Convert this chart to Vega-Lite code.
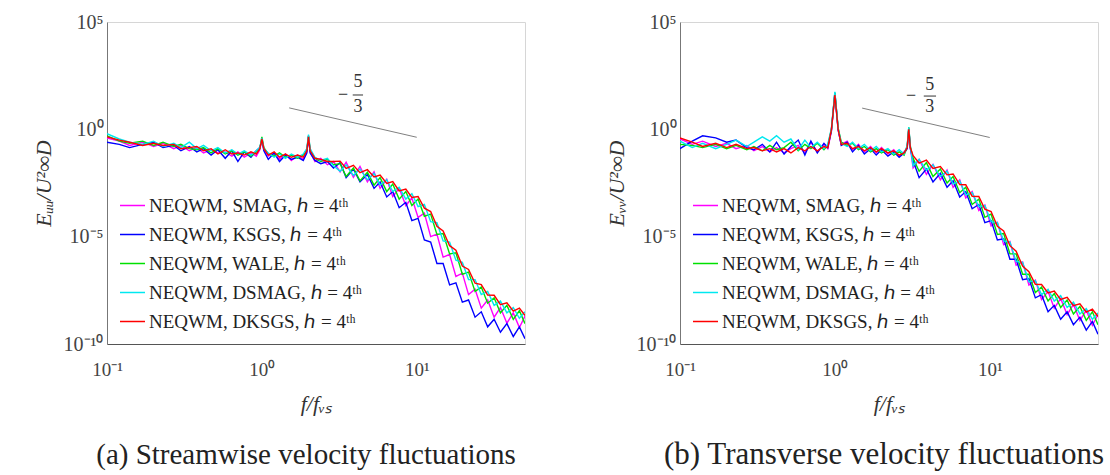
{
"$schema": "https://vega.github.io/schema/vega-lite/v6.json",
"background": "white",
"padding": {"left": 31, "top": 11, "right": 2, "bottom": 2},
"config": {
  "font": "Liberation Serif",
  "view": {"stroke": "#d6d6d6", "strokeWidth": 1},
  "axis": {"grid": false, "ticks": false, "labelFlush": false, "domainColor": "#666666", "labelColor": "#444444", "labelFont": "Liberation Serif", "titleFont": "Liberation Serif", "titleFontWeight": "normal", "titleFontStyle": "italic", "titleColor": "#333333"}
},
"datasets": {
"a": [
{"f":0.1,"m":"SMAG","e":-0.4},{"f":0.12,"m":"SMAG","e":-0.55},{"f":0.14,"m":"SMAG","e":-0.75},{"f":0.17,"m":"SMAG","e":-0.6},{"f":0.2,"m":"SMAG","e":-0.8},{"f":0.23,"m":"SMAG","e":-0.65},{"f":0.27,"m":"SMAG","e":-0.9},{"f":0.3,"m":"SMAG","e":-0.75},{"f":0.34,"m":"SMAG","e":-1.0},{"f":0.38,"m":"SMAG","e":-0.85},{"f":0.42,"m":"SMAG","e":-1.1},{"f":0.47,"m":"SMAG","e":-0.95},{"f":0.52,"m":"SMAG","e":-1.1},{"f":0.58,"m":"SMAG","e":-1.05},{"f":0.64,"m":"SMAG","e":-1.25},{"f":0.7,"m":"SMAG","e":-1.05},{"f":0.77,"m":"SMAG","e":-1.3},{"f":0.85,"m":"SMAG","e":-1.1},{"f":0.92,"m":"SMAG","e":-1.25},{"f":0.97,"m":"SMAG","e":-0.95},{"f":1.0,"m":"SMAG","e":-0.45},{"f":1.03,"m":"SMAG","e":-0.95},{"f":1.1,"m":"SMAG","e":-1.25},{"f":1.2,"m":"SMAG","e":-1.1},{"f":1.3,"m":"SMAG","e":-1.4},{"f":1.42,"m":"SMAG","e":-1.15},{"f":1.55,"m":"SMAG","e":-1.45},{"f":1.7,"m":"SMAG","e":-1.2},{"f":1.85,"m":"SMAG","e":-1.4},{"f":1.95,"m":"SMAG","e":-1.05},{"f":2.0,"m":"SMAG","e":-0.3},{"f":2.05,"m":"SMAG","e":-1.05},{"f":2.2,"m":"SMAG","e":-1.5},{"f":2.4,"m":"SMAG","e":-1.35},{"f":2.65,"m":"SMAG","e":-1.65},{"f":2.9,"m":"SMAG","e":-1.5},{"f":3.2,"m":"SMAG","e":-1.98},{"f":3.5,"m":"SMAG","e":-1.53},{"f":3.9,"m":"SMAG","e":-2.23},{"f":4.3,"m":"SMAG","e":-1.73},{"f":4.8,"m":"SMAG","e":-2.45},{"f":5.3,"m":"SMAG","e":-1.98},{"f":5.8,"m":"SMAG","e":-2.75},{"f":6.4,"m":"SMAG","e":-2.33},{"f":7.0,"m":"SMAG","e":-3.13},{"f":7.7,"m":"SMAG","e":-2.75},{"f":8.5,"m":"SMAG","e":-3.55},{"f":9.3,"m":"SMAG","e":-3.2},{"f":10.2,"m":"SMAG","e":-4.1},{"f":11.2,"m":"SMAG","e":-3.9},{"f":12.3,"m":"SMAG","e":-5.0},{"f":13.5,"m":"SMAG","e":-4.88},{"f":14.8,"m":"SMAG","e":-5.95},{"f":16.3,"m":"SMAG","e":-5.83},{"f":17.9,"m":"SMAG","e":-6.85},{"f":19.7,"m":"SMAG","e":-6.7},{"f":21.6,"m":"SMAG","e":-7.7},{"f":23.8,"m":"SMAG","e":-7.45},{"f":26.1,"m":"SMAG","e":-8.33},{"f":28.7,"m":"SMAG","e":-7.95},{"f":31.6,"m":"SMAG","e":-8.75},{"f":34.7,"m":"SMAG","e":-8.3},{"f":38.2,"m":"SMAG","e":-9.03},{"f":42,"m":"SMAG","e":-8.55},{"f":46,"m":"SMAG","e":-9.23},{"f":50,"m":"SMAG","e":-8.7},
{"f":0.1,"m":"KSGS","e":-0.6},{"f":0.12,"m":"KSGS","e":-0.7},{"f":0.14,"m":"KSGS","e":-0.85},{"f":0.17,"m":"KSGS","e":-0.7},{"f":0.2,"m":"KSGS","e":-0.6},{"f":0.23,"m":"KSGS","e":-0.85},{"f":0.27,"m":"KSGS","e":-0.75},{"f":0.3,"m":"KSGS","e":-1.0},{"f":0.34,"m":"KSGS","e":-0.8},{"f":0.38,"m":"KSGS","e":-1.05},{"f":0.42,"m":"KSGS","e":-0.9},{"f":0.47,"m":"KSGS","e":-1.2},{"f":0.52,"m":"KSGS","e":-0.95},{"f":0.58,"m":"KSGS","e":-1.35},{"f":0.64,"m":"KSGS","e":-1.0},{"f":0.7,"m":"KSGS","e":-1.5},{"f":0.77,"m":"KSGS","e":-1.05},{"f":0.85,"m":"KSGS","e":-1.3},{"f":0.92,"m":"KSGS","e":-1.0},{"f":0.97,"m":"KSGS","e":-0.85},{"f":1.0,"m":"KSGS","e":-0.5},{"f":1.03,"m":"KSGS","e":-1.0},{"f":1.1,"m":"KSGS","e":-1.4},{"f":1.2,"m":"KSGS","e":-1.1},{"f":1.3,"m":"KSGS","e":-1.5},{"f":1.42,"m":"KSGS","e":-1.2},{"f":1.55,"m":"KSGS","e":-1.4},{"f":1.7,"m":"KSGS","e":-1.3},{"f":1.85,"m":"KSGS","e":-1.45},{"f":1.95,"m":"KSGS","e":-1.1},{"f":2.0,"m":"KSGS","e":-0.35},{"f":2.05,"m":"KSGS","e":-1.1},{"f":2.2,"m":"KSGS","e":-1.45},{"f":2.4,"m":"KSGS","e":-1.6},{"f":2.65,"m":"KSGS","e":-1.5},{"f":2.9,"m":"KSGS","e":-1.8},{"f":3.2,"m":"KSGS","e":-1.55},{"f":3.5,"m":"KSGS","e":-2.25},{"f":3.9,"m":"KSGS","e":-1.85},{"f":4.3,"m":"KSGS","e":-2.45},{"f":4.8,"m":"KSGS","e":-2.1},{"f":5.3,"m":"KSGS","e":-2.75},{"f":5.8,"m":"KSGS","e":-2.45},{"f":6.4,"m":"KSGS","e":-3.15},{"f":7.0,"m":"KSGS","e":-2.9},{"f":7.7,"m":"KSGS","e":-3.65},{"f":8.5,"m":"KSGS","e":-3.4},{"f":9.3,"m":"KSGS","e":-4.25},{"f":10.2,"m":"KSGS","e":-4.15},{"f":11.2,"m":"KSGS","e":-5.15},{"f":12.3,"m":"KSGS","e":-5.25},{"f":13.5,"m":"KSGS","e":-6.25},{"f":14.8,"m":"KSGS","e":-6.25},{"f":16.3,"m":"KSGS","e":-7.25},{"f":17.9,"m":"KSGS","e":-7.15},{"f":19.7,"m":"KSGS","e":-8.05},{"f":21.6,"m":"KSGS","e":-7.95},{"f":23.8,"m":"KSGS","e":-8.75},{"f":26.1,"m":"KSGS","e":-8.5},{"f":28.7,"m":"KSGS","e":-9.2},{"f":31.6,"m":"KSGS","e":-8.85},{"f":34.7,"m":"KSGS","e":-9.45},{"f":38.2,"m":"KSGS","e":-9.05},{"f":42,"m":"KSGS","e":-9.65},{"f":46,"m":"KSGS","e":-9.2},{"f":50,"m":"KSGS","e":-9.75},
{"f":0.1,"m":"WALE","e":-0.3},{"f":0.12,"m":"WALE","e":-0.55},{"f":0.14,"m":"WALE","e":-0.65},{"f":0.17,"m":"WALE","e":-0.55},{"f":0.2,"m":"WALE","e":-0.75},{"f":0.23,"m":"WALE","e":-0.6},{"f":0.27,"m":"WALE","e":-0.8},{"f":0.3,"m":"WALE","e":-0.7},{"f":0.34,"m":"WALE","e":-0.9},{"f":0.38,"m":"WALE","e":-0.95},{"f":0.42,"m":"WALE","e":-0.85},{"f":0.47,"m":"WALE","e":-1.1},{"f":0.52,"m":"WALE","e":-0.9},{"f":0.58,"m":"WALE","e":-1.15},{"f":0.64,"m":"WALE","e":-1.0},{"f":0.7,"m":"WALE","e":-1.2},{"f":0.77,"m":"WALE","e":-1.05},{"f":0.85,"m":"WALE","e":-1.25},{"f":0.92,"m":"WALE","e":-1.05},{"f":0.97,"m":"WALE","e":-0.9},{"f":1.0,"m":"WALE","e":-0.35},{"f":1.03,"m":"WALE","e":-0.85},{"f":1.1,"m":"WALE","e":-1.15},{"f":1.2,"m":"WALE","e":-1.25},{"f":1.3,"m":"WALE","e":-1.1},{"f":1.42,"m":"WALE","e":-1.3},{"f":1.55,"m":"WALE","e":-1.2},{"f":1.7,"m":"WALE","e":-1.35},{"f":1.85,"m":"WALE","e":-1.2},{"f":1.95,"m":"WALE","e":-0.95},{"f":2.0,"m":"WALE","e":-0.3},{"f":2.05,"m":"WALE","e":-0.95},{"f":2.2,"m":"WALE","e":-1.35},{"f":2.4,"m":"WALE","e":-1.5},{"f":2.65,"m":"WALE","e":-1.4},{"f":2.9,"m":"WALE","e":-1.65},{"f":3.2,"m":"WALE","e":-1.6},{"f":3.5,"m":"WALE","e":-2.2},{"f":3.9,"m":"WALE","e":-1.8},{"f":4.3,"m":"WALE","e":-2.4},{"f":4.8,"m":"WALE","e":-2.0},{"f":5.3,"m":"WALE","e":-2.6},{"f":5.8,"m":"WALE","e":-2.25},{"f":6.4,"m":"WALE","e":-2.9},{"f":7.0,"m":"WALE","e":-2.55},{"f":7.7,"m":"WALE","e":-3.25},{"f":8.5,"m":"WALE","e":-2.9},{"f":9.3,"m":"WALE","e":-3.55},{"f":10.2,"m":"WALE","e":-3.25},{"f":11.2,"m":"WALE","e":-4.05},{"f":12.3,"m":"WALE","e":-3.95},{"f":13.5,"m":"WALE","e":-4.9},{"f":14.8,"m":"WALE","e":-4.85},{"f":16.3,"m":"WALE","e":-5.8},{"f":17.9,"m":"WALE","e":-5.75},{"f":19.7,"m":"WALE","e":-6.75},{"f":21.6,"m":"WALE","e":-6.65},{"f":23.8,"m":"WALE","e":-7.55},{"f":26.1,"m":"WALE","e":-7.35},{"f":28.7,"m":"WALE","e":-8.1},{"f":31.6,"m":"WALE","e":-7.85},{"f":34.7,"m":"WALE","e":-8.55},{"f":38.2,"m":"WALE","e":-8.2},{"f":42,"m":"WALE","e":-8.85},{"f":46,"m":"WALE","e":-8.45},{"f":50,"m":"WALE","e":-9.05},
{"f":0.1,"m":"DSMAG","e":-0.2},{"f":0.12,"m":"DSMAG","e":-0.45},{"f":0.14,"m":"DSMAG","e":-0.6},{"f":0.17,"m":"DSMAG","e":-0.7},{"f":0.2,"m":"DSMAG","e":-0.55},{"f":0.23,"m":"DSMAG","e":-0.8},{"f":0.27,"m":"DSMAG","e":-0.65},{"f":0.3,"m":"DSMAG","e":-0.85},{"f":0.34,"m":"DSMAG","e":-0.6},{"f":0.38,"m":"DSMAG","e":-0.9},{"f":0.42,"m":"DSMAG","e":-0.75},{"f":0.47,"m":"DSMAG","e":-1.0},{"f":0.52,"m":"DSMAG","e":-0.85},{"f":0.58,"m":"DSMAG","e":-1.1},{"f":0.64,"m":"DSMAG","e":-0.95},{"f":0.7,"m":"DSMAG","e":-1.15},{"f":0.77,"m":"DSMAG","e":-1.0},{"f":0.85,"m":"DSMAG","e":-1.2},{"f":0.92,"m":"DSMAG","e":-1.0},{"f":0.97,"m":"DSMAG","e":-0.85},{"f":1.0,"m":"DSMAG","e":-0.4},{"f":1.03,"m":"DSMAG","e":-0.9},{"f":1.1,"m":"DSMAG","e":-1.1},{"f":1.2,"m":"DSMAG","e":-1.3},{"f":1.3,"m":"DSMAG","e":-1.15},{"f":1.42,"m":"DSMAG","e":-1.35},{"f":1.55,"m":"DSMAG","e":-1.15},{"f":1.7,"m":"DSMAG","e":-1.3},{"f":1.85,"m":"DSMAG","e":-1.15},{"f":1.95,"m":"DSMAG","e":-0.9},{"f":2.0,"m":"DSMAG","e":-0.25},{"f":2.05,"m":"DSMAG","e":-0.9},{"f":2.2,"m":"DSMAG","e":-1.3},{"f":2.4,"m":"DSMAG","e":-1.45},{"f":2.65,"m":"DSMAG","e":-1.35},{"f":2.9,"m":"DSMAG","e":-1.7},{"f":3.2,"m":"DSMAG","e":-1.95},{"f":3.5,"m":"DSMAG","e":-1.65},{"f":3.9,"m":"DSMAG","e":-2.15},{"f":4.3,"m":"DSMAG","e":-1.85},{"f":4.8,"m":"DSMAG","e":-2.35},{"f":5.3,"m":"DSMAG","e":-2.05},{"f":5.8,"m":"DSMAG","e":-2.6},{"f":6.4,"m":"DSMAG","e":-2.35},{"f":7.0,"m":"DSMAG","e":-2.9},{"f":7.7,"m":"DSMAG","e":-2.7},{"f":8.5,"m":"DSMAG","e":-3.25},{"f":9.3,"m":"DSMAG","e":-3.0},{"f":10.2,"m":"DSMAG","e":-3.6},{"f":11.2,"m":"DSMAG","e":-3.5},{"f":12.3,"m":"DSMAG","e":-4.3},{"f":13.5,"m":"DSMAG","e":-4.35},{"f":14.8,"m":"DSMAG","e":-5.2},{"f":16.3,"m":"DSMAG","e":-5.25},{"f":17.9,"m":"DSMAG","e":-6.1},{"f":19.7,"m":"DSMAG","e":-6.2},{"f":21.6,"m":"DSMAG","e":-7.0},{"f":23.8,"m":"DSMAG","e":-7.0},{"f":26.1,"m":"DSMAG","e":-7.7},{"f":28.7,"m":"DSMAG","e":-7.55},{"f":31.6,"m":"DSMAG","e":-8.2},{"f":34.7,"m":"DSMAG","e":-8.0},{"f":38.2,"m":"DSMAG","e":-8.55},{"f":42,"m":"DSMAG","e":-8.3},{"f":46,"m":"DSMAG","e":-8.8},{"f":50,"m":"DSMAG","e":-8.5},
{"f":0.1,"m":"DKSGS","e":-0.35},{"f":0.12,"m":"DKSGS","e":-0.5},{"f":0.14,"m":"DKSGS","e":-0.6},{"f":0.17,"m":"DKSGS","e":-0.75},{"f":0.2,"m":"DKSGS","e":-0.65},{"f":0.23,"m":"DKSGS","e":-0.75},{"f":0.27,"m":"DKSGS","e":-0.7},{"f":0.3,"m":"DKSGS","e":-0.9},{"f":0.34,"m":"DKSGS","e":-0.85},{"f":0.38,"m":"DKSGS","e":-0.8},{"f":0.42,"m":"DKSGS","e":-1.0},{"f":0.47,"m":"DKSGS","e":-0.9},{"f":0.52,"m":"DKSGS","e":-1.15},{"f":0.58,"m":"DKSGS","e":-0.95},{"f":0.64,"m":"DKSGS","e":-1.15},{"f":0.7,"m":"DKSGS","e":-1.1},{"f":0.77,"m":"DKSGS","e":-1.2},{"f":0.85,"m":"DKSGS","e":-1.05},{"f":0.92,"m":"DKSGS","e":-1.15},{"f":0.97,"m":"DKSGS","e":-0.9},{"f":1.0,"m":"DKSGS","e":-0.45},{"f":1.03,"m":"DKSGS","e":-0.9},{"f":1.1,"m":"DKSGS","e":-1.2},{"f":1.2,"m":"DKSGS","e":-1.05},{"f":1.3,"m":"DKSGS","e":-1.3},{"f":1.42,"m":"DKSGS","e":-1.15},{"f":1.55,"m":"DKSGS","e":-1.3},{"f":1.7,"m":"DKSGS","e":-1.2},{"f":1.85,"m":"DKSGS","e":-1.3},{"f":1.95,"m":"DKSGS","e":-1.0},{"f":2.0,"m":"DKSGS","e":-0.35},{"f":2.05,"m":"DKSGS","e":-1.0},{"f":2.2,"m":"DKSGS","e":-1.35},{"f":2.4,"m":"DKSGS","e":-1.4},{"f":2.65,"m":"DKSGS","e":-1.5},{"f":2.9,"m":"DKSGS","e":-1.5},{"f":3.2,"m":"DKSGS","e":-1.48},{"f":3.5,"m":"DKSGS","e":-1.82},{"f":3.9,"m":"DKSGS","e":-1.68},{"f":4.3,"m":"DKSGS","e":-2.02},{"f":4.8,"m":"DKSGS","e":-1.88},{"f":5.3,"m":"DKSGS","e":-2.22},{"f":5.8,"m":"DKSGS","e":-2.13},{"f":6.4,"m":"DKSGS","e":-2.52},{"f":7.0,"m":"DKSGS","e":-2.43},{"f":7.7,"m":"DKSGS","e":-2.87},{"f":8.5,"m":"DKSGS","e":-2.78},{"f":9.3,"m":"DKSGS","e":-3.17},{"f":10.2,"m":"DKSGS","e":-3.13},{"f":11.2,"m":"DKSGS","e":-3.67},{"f":12.3,"m":"DKSGS","e":-3.83},{"f":13.5,"m":"DKSGS","e":-4.52},{"f":14.8,"m":"DKSGS","e":-4.73},{"f":16.3,"m":"DKSGS","e":-5.42},{"f":17.9,"m":"DKSGS","e":-5.63},{"f":19.7,"m":"DKSGS","e":-6.37},{"f":21.6,"m":"DKSGS","e":-6.53},{"f":23.8,"m":"DKSGS","e":-7.17},{"f":26.1,"m":"DKSGS","e":-7.23},{"f":28.7,"m":"DKSGS","e":-7.72},{"f":31.6,"m":"DKSGS","e":-7.73},{"f":34.7,"m":"DKSGS","e":-8.17},{"f":38.2,"m":"DKSGS","e":-8.08},{"f":42,"m":"DKSGS","e":-8.47},{"f":46,"m":"DKSGS","e":-8.33},{"f":50,"m":"DKSGS","e":-8.67}
],
"b": [
{"f":0.1,"m":"SMAG","e":-0.45},{"f":0.12,"m":"SMAG","e":-0.7},{"f":0.14,"m":"SMAG","e":-0.55},{"f":0.17,"m":"SMAG","e":-0.8},{"f":0.2,"m":"SMAG","e":-0.65},{"f":0.23,"m":"SMAG","e":-0.9},{"f":0.27,"m":"SMAG","e":-0.75},{"f":0.3,"m":"SMAG","e":-1.0},{"f":0.34,"m":"SMAG","e":-0.8},{"f":0.38,"m":"SMAG","e":-1.05},{"f":0.42,"m":"SMAG","e":-0.85},{"f":0.47,"m":"SMAG","e":-1.1},{"f":0.52,"m":"SMAG","e":-0.9},{"f":0.58,"m":"SMAG","e":-0.75},{"f":0.64,"m":"SMAG","e":-1.1},{"f":0.7,"m":"SMAG","e":-0.6},{"f":0.77,"m":"SMAG","e":-1.05},{"f":0.85,"m":"SMAG","e":-0.7},{"f":0.9,"m":"SMAG","e":-0.9},{"f":0.95,"m":"SMAG","e":-0.1},{"f":1.0,"m":"SMAG","e":1.65},{"f":1.05,"m":"SMAG","e":-0.05},{"f":1.1,"m":"SMAG","e":-0.7},{"f":1.2,"m":"SMAG","e":-0.55},{"f":1.3,"m":"SMAG","e":-0.95},{"f":1.42,"m":"SMAG","e":-0.7},{"f":1.55,"m":"SMAG","e":-1.05},{"f":1.7,"m":"SMAG","e":-0.8},{"f":1.85,"m":"SMAG","e":-1.1},{"f":2.0,"m":"SMAG","e":-0.85},{"f":2.2,"m":"SMAG","e":-1.15},{"f":2.4,"m":"SMAG","e":-0.95},{"f":2.6,"m":"SMAG","e":-1.25},{"f":2.8,"m":"SMAG","e":-1.05},{"f":2.93,"m":"SMAG","e":-0.85},{"f":3.0,"m":"SMAG","e":0.05},{"f":3.07,"m":"SMAG","e":-0.85},{"f":3.2,"m":"SMAG","e":-1.8},{"f":3.5,"m":"SMAG","e":-1.4},{"f":3.9,"m":"SMAG","e":-2.1},{"f":4.3,"m":"SMAG","e":-1.63},{"f":4.8,"m":"SMAG","e":-2.35},{"f":5.3,"m":"SMAG","e":-1.9},{"f":5.8,"m":"SMAG","e":-2.7},{"f":6.4,"m":"SMAG","e":-2.35},{"f":7.0,"m":"SMAG","e":-3.2},{"f":7.7,"m":"SMAG","e":-2.9},{"f":8.5,"m":"SMAG","e":-3.78},{"f":9.3,"m":"SMAG","e":-3.53},{"f":10.2,"m":"SMAG","e":-4.5},{"f":11.2,"m":"SMAG","e":-4.33},{"f":12.3,"m":"SMAG","e":-5.38},{"f":13.5,"m":"SMAG","e":-5.23},{"f":14.8,"m":"SMAG","e":-6.33},{"f":16.3,"m":"SMAG","e":-6.18},{"f":17.9,"m":"SMAG","e":-7.25},{"f":19.7,"m":"SMAG","e":-7.03},{"f":21.6,"m":"SMAG","e":-7.93},{"f":23.8,"m":"SMAG","e":-7.55},{"f":26.1,"m":"SMAG","e":-8.33},{"f":28.7,"m":"SMAG","e":-7.88},{"f":31.6,"m":"SMAG","e":-8.63},{"f":34.7,"m":"SMAG","e":-8.15},{"f":38.2,"m":"SMAG","e":-8.9},{"f":42,"m":"SMAG","e":-8.43},{"f":46,"m":"SMAG","e":-9.13},{"f":50,"m":"SMAG","e":-8.63},
{"f":0.1,"m":"KSGS","e":-0.9},{"f":0.12,"m":"KSGS","e":-0.55},{"f":0.14,"m":"KSGS","e":-0.3},{"f":0.17,"m":"KSGS","e":-0.4},{"f":0.2,"m":"KSGS","e":-0.6},{"f":0.23,"m":"KSGS","e":-0.5},{"f":0.27,"m":"KSGS","e":-0.85},{"f":0.3,"m":"KSGS","e":-0.95},{"f":0.34,"m":"KSGS","e":-0.7},{"f":0.38,"m":"KSGS","e":-1.05},{"f":0.42,"m":"KSGS","e":-0.6},{"f":0.47,"m":"KSGS","e":-1.15},{"f":0.52,"m":"KSGS","e":-0.8},{"f":0.58,"m":"KSGS","e":-0.5},{"f":0.64,"m":"KSGS","e":-1.2},{"f":0.7,"m":"KSGS","e":-0.55},{"f":0.77,"m":"KSGS","e":-1.1},{"f":0.85,"m":"KSGS","e":-0.65},{"f":0.9,"m":"KSGS","e":-0.85},{"f":0.95,"m":"KSGS","e":-0.05},{"f":1.0,"m":"KSGS","e":1.7},{"f":1.05,"m":"KSGS","e":0.0},{"f":1.1,"m":"KSGS","e":-0.75},{"f":1.2,"m":"KSGS","e":-0.6},{"f":1.3,"m":"KSGS","e":-1.05},{"f":1.42,"m":"KSGS","e":-0.75},{"f":1.55,"m":"KSGS","e":-1.15},{"f":1.7,"m":"KSGS","e":-0.9},{"f":1.85,"m":"KSGS","e":-1.2},{"f":2.0,"m":"KSGS","e":-0.95},{"f":2.2,"m":"KSGS","e":-1.25},{"f":2.4,"m":"KSGS","e":-1.05},{"f":2.6,"m":"KSGS","e":-1.3},{"f":2.8,"m":"KSGS","e":-1.1},{"f":2.93,"m":"KSGS","e":-0.9},{"f":3.0,"m":"KSGS","e":0.0},{"f":3.07,"m":"KSGS","e":-0.9},{"f":3.2,"m":"KSGS","e":-1.45},{"f":3.5,"m":"KSGS","e":-2.25},{"f":3.9,"m":"KSGS","e":-1.85},{"f":4.3,"m":"KSGS","e":-2.45},{"f":4.8,"m":"KSGS","e":-2.05},{"f":5.3,"m":"KSGS","e":-2.7},{"f":5.8,"m":"KSGS","e":-2.4},{"f":6.4,"m":"KSGS","e":-3.15},{"f":7.0,"m":"KSGS","e":-2.9},{"f":7.7,"m":"KSGS","e":-3.7},{"f":8.5,"m":"KSGS","e":-3.5},{"f":9.3,"m":"KSGS","e":-4.35},{"f":10.2,"m":"KSGS","e":-4.25},{"f":11.2,"m":"KSGS","e":-5.15},{"f":12.3,"m":"KSGS","e":-5.1},{"f":13.5,"m":"KSGS","e":-6.05},{"f":14.8,"m":"KSGS","e":-6.05},{"f":16.3,"m":"KSGS","e":-7.0},{"f":17.9,"m":"KSGS","e":-6.95},{"f":19.7,"m":"KSGS","e":-7.85},{"f":21.6,"m":"KSGS","e":-7.7},{"f":23.8,"m":"KSGS","e":-8.5},{"f":26.1,"m":"KSGS","e":-8.2},{"f":28.7,"m":"KSGS","e":-8.85},{"f":31.6,"m":"KSGS","e":-8.5},{"f":34.7,"m":"KSGS","e":-9.1},{"f":38.2,"m":"KSGS","e":-8.75},{"f":42,"m":"KSGS","e":-9.35},{"f":46,"m":"KSGS","e":-8.95},{"f":50,"m":"KSGS","e":-9.55},
{"f":0.1,"m":"WALE","e":-0.7},{"f":0.12,"m":"WALE","e":-0.75},{"f":0.14,"m":"WALE","e":-0.85},{"f":0.17,"m":"WALE","e":-0.7},{"f":0.2,"m":"WALE","e":-0.9},{"f":0.23,"m":"WALE","e":-0.75},{"f":0.27,"m":"WALE","e":-0.95},{"f":0.3,"m":"WALE","e":-0.8},{"f":0.34,"m":"WALE","e":-1.0},{"f":0.38,"m":"WALE","e":-0.75},{"f":0.42,"m":"WALE","e":-0.95},{"f":0.47,"m":"WALE","e":-0.85},{"f":0.52,"m":"WALE","e":-0.6},{"f":0.58,"m":"WALE","e":-1.0},{"f":0.64,"m":"WALE","e":-0.7},{"f":0.7,"m":"WALE","e":-0.9},{"f":0.77,"m":"WALE","e":-0.65},{"f":0.85,"m":"WALE","e":-0.95},{"f":0.9,"m":"WALE","e":-0.75},{"f":0.95,"m":"WALE","e":0.0},{"f":1.0,"m":"WALE","e":1.7},{"f":1.05,"m":"WALE","e":0.05},{"f":1.1,"m":"WALE","e":-0.6},{"f":1.2,"m":"WALE","e":-0.75},{"f":1.3,"m":"WALE","e":-0.65},{"f":1.42,"m":"WALE","e":-0.95},{"f":1.55,"m":"WALE","e":-0.8},{"f":1.7,"m":"WALE","e":-1.05},{"f":1.85,"m":"WALE","e":-0.9},{"f":2.0,"m":"WALE","e":-1.1},{"f":2.2,"m":"WALE","e":-0.95},{"f":2.4,"m":"WALE","e":-1.2},{"f":2.6,"m":"WALE","e":-1.05},{"f":2.8,"m":"WALE","e":-1.2},{"f":2.93,"m":"WALE","e":-0.8},{"f":3.0,"m":"WALE","e":0.1},{"f":3.07,"m":"WALE","e":-0.8},{"f":3.2,"m":"WALE","e":-1.35},{"f":3.5,"m":"WALE","e":-1.95},{"f":3.9,"m":"WALE","e":-1.55},{"f":4.3,"m":"WALE","e":-2.2},{"f":4.8,"m":"WALE","e":-1.85},{"f":5.3,"m":"WALE","e":-2.5},{"f":5.8,"m":"WALE","e":-2.2},{"f":6.4,"m":"WALE","e":-2.95},{"f":7.0,"m":"WALE","e":-2.7},{"f":7.7,"m":"WALE","e":-3.5},{"f":8.5,"m":"WALE","e":-3.25},{"f":9.3,"m":"WALE","e":-4.1},{"f":10.2,"m":"WALE","e":-3.95},{"f":11.2,"m":"WALE","e":-4.9},{"f":12.3,"m":"WALE","e":-4.85},{"f":13.5,"m":"WALE","e":-5.8},{"f":14.8,"m":"WALE","e":-5.8},{"f":16.3,"m":"WALE","e":-6.75},{"f":17.9,"m":"WALE","e":-6.75},{"f":19.7,"m":"WALE","e":-7.6},{"f":21.6,"m":"WALE","e":-7.35},{"f":23.8,"m":"WALE","e":-8.0},{"f":26.1,"m":"WALE","e":-7.65},{"f":28.7,"m":"WALE","e":-8.3},{"f":31.6,"m":"WALE","e":-7.95},{"f":34.7,"m":"WALE","e":-8.6},{"f":38.2,"m":"WALE","e":-8.25},{"f":42,"m":"WALE","e":-8.9},{"f":46,"m":"WALE","e":-8.5},{"f":50,"m":"WALE","e":-9.1},
{"f":0.1,"m":"DSMAG","e":-0.55},{"f":0.12,"m":"DSMAG","e":-0.85},{"f":0.14,"m":"DSMAG","e":-0.65},{"f":0.17,"m":"DSMAG","e":-0.9},{"f":0.2,"m":"DSMAG","e":-0.7},{"f":0.23,"m":"DSMAG","e":-0.5},{"f":0.27,"m":"DSMAG","e":-0.8},{"f":0.3,"m":"DSMAG","e":-0.6},{"f":0.34,"m":"DSMAG","e":-0.35},{"f":0.38,"m":"DSMAG","e":-0.55},{"f":0.42,"m":"DSMAG","e":-0.3},{"f":0.47,"m":"DSMAG","e":-0.6},{"f":0.52,"m":"DSMAG","e":-0.45},{"f":0.58,"m":"DSMAG","e":-0.95},{"f":0.64,"m":"DSMAG","e":-0.5},{"f":0.7,"m":"DSMAG","e":-0.85},{"f":0.77,"m":"DSMAG","e":-0.6},{"f":0.85,"m":"DSMAG","e":-0.9},{"f":0.9,"m":"DSMAG","e":-0.7},{"f":0.95,"m":"DSMAG","e":0.05},{"f":1.0,"m":"DSMAG","e":1.75},{"f":1.05,"m":"DSMAG","e":0.05},{"f":1.1,"m":"DSMAG","e":-0.65},{"f":1.2,"m":"DSMAG","e":-0.8},{"f":1.3,"m":"DSMAG","e":-0.6},{"f":1.42,"m":"DSMAG","e":-0.9},{"f":1.55,"m":"DSMAG","e":-0.7},{"f":1.7,"m":"DSMAG","e":-1.0},{"f":1.85,"m":"DSMAG","e":-0.8},{"f":2.0,"m":"DSMAG","e":-1.05},{"f":2.2,"m":"DSMAG","e":-0.9},{"f":2.4,"m":"DSMAG","e":-1.15},{"f":2.6,"m":"DSMAG","e":-0.95},{"f":2.8,"m":"DSMAG","e":-1.15},{"f":2.93,"m":"DSMAG","e":-0.75},{"f":3.0,"m":"DSMAG","e":0.1},{"f":3.07,"m":"DSMAG","e":-0.75},{"f":3.2,"m":"DSMAG","e":-1.7},{"f":3.5,"m":"DSMAG","e":-1.4},{"f":3.9,"m":"DSMAG","e":-1.9},{"f":4.3,"m":"DSMAG","e":-1.65},{"f":4.8,"m":"DSMAG","e":-2.2},{"f":5.3,"m":"DSMAG","e":-1.95},{"f":5.8,"m":"DSMAG","e":-2.55},{"f":6.4,"m":"DSMAG","e":-2.4},{"f":7.0,"m":"DSMAG","e":-3.05},{"f":7.7,"m":"DSMAG","e":-2.95},{"f":8.5,"m":"DSMAG","e":-3.6},{"f":9.3,"m":"DSMAG","e":-3.55},{"f":10.2,"m":"DSMAG","e":-4.3},{"f":11.2,"m":"DSMAG","e":-4.35},{"f":12.3,"m":"DSMAG","e":-5.2},{"f":13.5,"m":"DSMAG","e":-5.25},{"f":14.8,"m":"DSMAG","e":-6.15},{"f":16.3,"m":"DSMAG","e":-6.2},{"f":17.9,"m":"DSMAG","e":-7.1},{"f":19.7,"m":"DSMAG","e":-7.05},{"f":21.6,"m":"DSMAG","e":-7.7},{"f":23.8,"m":"DSMAG","e":-7.45},{"f":26.1,"m":"DSMAG","e":-8.0},{"f":28.7,"m":"DSMAG","e":-7.75},{"f":31.6,"m":"DSMAG","e":-8.3},{"f":34.7,"m":"DSMAG","e":-8.05},{"f":38.2,"m":"DSMAG","e":-8.6},{"f":42,"m":"DSMAG","e":-8.35},{"f":46,"m":"DSMAG","e":-8.85},{"f":50,"m":"DSMAG","e":-8.55},
{"f":0.1,"m":"DKSGS","e":-0.4},{"f":0.12,"m":"DKSGS","e":-0.6},{"f":0.14,"m":"DKSGS","e":-0.8},{"f":0.17,"m":"DKSGS","e":-0.65},{"f":0.2,"m":"DKSGS","e":-0.85},{"f":0.23,"m":"DKSGS","e":-0.7},{"f":0.27,"m":"DKSGS","e":-0.9},{"f":0.3,"m":"DKSGS","e":-0.85},{"f":0.34,"m":"DKSGS","e":-1.0},{"f":0.38,"m":"DKSGS","e":-0.9},{"f":0.42,"m":"DKSGS","e":-1.05},{"f":0.47,"m":"DKSGS","e":-0.9},{"f":0.52,"m":"DKSGS","e":-1.1},{"f":0.58,"m":"DKSGS","e":-0.85},{"f":0.64,"m":"DKSGS","e":-1.0},{"f":0.7,"m":"DKSGS","e":-0.8},{"f":0.77,"m":"DKSGS","e":-1.0},{"f":0.85,"m":"DKSGS","e":-0.8},{"f":0.9,"m":"DKSGS","e":-0.85},{"f":0.95,"m":"DKSGS","e":0.0},{"f":1.0,"m":"DKSGS","e":1.6},{"f":1.05,"m":"DKSGS","e":0.0},{"f":1.1,"m":"DKSGS","e":-0.7},{"f":1.2,"m":"DKSGS","e":-0.65},{"f":1.3,"m":"DKSGS","e":-0.9},{"f":1.42,"m":"DKSGS","e":-0.8},{"f":1.55,"m":"DKSGS","e":-1.0},{"f":1.7,"m":"DKSGS","e":-0.85},{"f":1.85,"m":"DKSGS","e":-1.05},{"f":2.0,"m":"DKSGS","e":-0.9},{"f":2.2,"m":"DKSGS","e":-1.1},{"f":2.4,"m":"DKSGS","e":-1.0},{"f":2.6,"m":"DKSGS","e":-1.2},{"f":2.8,"m":"DKSGS","e":-1.1},{"f":2.93,"m":"DKSGS","e":-0.85},{"f":3.0,"m":"DKSGS","e":0.0},{"f":3.07,"m":"DKSGS","e":-0.85},{"f":3.2,"m":"DKSGS","e":-1.23},{"f":3.5,"m":"DKSGS","e":-1.57},{"f":3.9,"m":"DKSGS","e":-1.43},{"f":4.3,"m":"DKSGS","e":-1.82},{"f":4.8,"m":"DKSGS","e":-1.73},{"f":5.3,"m":"DKSGS","e":-2.12},{"f":5.8,"m":"DKSGS","e":-2.08},{"f":6.4,"m":"DKSGS","e":-2.57},{"f":7.0,"m":"DKSGS","e":-2.58},{"f":7.7,"m":"DKSGS","e":-3.12},{"f":8.5,"m":"DKSGS","e":-3.13},{"f":9.3,"m":"DKSGS","e":-3.72},{"f":10.2,"m":"DKSGS","e":-3.83},{"f":11.2,"m":"DKSGS","e":-4.52},{"f":12.3,"m":"DKSGS","e":-4.73},{"f":13.5,"m":"DKSGS","e":-5.42},{"f":14.8,"m":"DKSGS","e":-5.68},{"f":16.3,"m":"DKSGS","e":-6.37},{"f":17.9,"m":"DKSGS","e":-6.63},{"f":19.7,"m":"DKSGS","e":-7.22},{"f":21.6,"m":"DKSGS","e":-7.23},{"f":23.8,"m":"DKSGS","e":-7.62},{"f":26.1,"m":"DKSGS","e":-7.53},{"f":28.7,"m":"DKSGS","e":-7.92},{"f":31.6,"m":"DKSGS","e":-7.83},{"f":34.7,"m":"DKSGS","e":-8.22},{"f":38.2,"m":"DKSGS","e":-8.13},{"f":42,"m":"DKSGS","e":-8.52},{"f":46,"m":"DKSGS","e":-8.38},{"f":50,"m":"DKSGS","e":-8.72}
]
},
"spacing": 78,
"resolve": {"scale": {"color": "independent"}, "legend": {"color": "independent"}},
"hconcat": [
{
  "width": 418, "height": 322,
  "title": {"text": "(a) Streamwise velocity fluctuations", "orient": "bottom", "anchor": "middle", "dx": -10, "font": "Liberation Serif", "fontSize": 29, "fontWeight": "normal", "color": "#222222", "offset": 27},
  "layer": [
    {"data": {"name": "a"}, "mark": {"type": "line", "strokeWidth": 1.4, "clip": true},
     "encoding": {
       "x": {"field": "f", "type": "quantitative", "scale": {"type": "log", "domain": [0.1, 50], "nice": false}, "axis": {"values": [0.1, 1, 10], "labelExpr": "datum.value < 0.5 ? '10⁻¹' : datum.value < 5 ? '10⁰' : '10¹'", "title": "f/fᵥₛ", "labelFontSize": 19, "labelPadding": 16, "titleFontSize": 22, "titlePadding": 14, "domainColor": "#555555"}},
       "y": {"field": "e", "type": "quantitative", "scale": {"domain": [-10, 5], "nice": false}, "axis": {"values": [-10, -5, 0, 5], "labelExpr": "datum.value == 5 ? '10⁵' : datum.value == 0 ? '10⁰' : datum.value == -5 ? '10⁻⁵' : '10⁻¹⁰'", "title": "Eᵤᵤ/U²∞D", "labelFontSize": 20, "labelPadding": 4, "titleFontSize": 22, "titlePadding": 8, "domainColor": "#777777"}},
       "color": {"field": "m", "type": "nominal", "scale": {"domain": ["SMAG", "KSGS", "WALE", "DSMAG", "DKSGS"], "range": ["#ff00ff", "#0000ff", "#00e000", "#00e8f0", "#ff0000"]},
         "legend": {"title": null, "orient": "bottom-left", "offset": 12, "padding": 0, "symbolType": "stroke", "symbolSize": 625, "symbolStrokeWidth": 1.5, "labelFont": "Liberation Serif", "labelFontSize": 19, "labelColor": "#222222", "labelLimit": 400, "labelOffset": 3, "rowPadding": 5, "labelExpr": "'NEQWM, ' + datum.label + ', ℎ = 4ᵗʰ'"}}
     }},
    {"data": {"values": [{"f": 1.5, "e": 1.0}, {"f": 10, "e": -0.37}]}, "mark": {"type": "line", "color": "#808080", "strokeWidth": 1},
     "encoding": {"x": {"field": "f", "type": "quantitative"}, "y": {"field": "e", "type": "quantitative"}}},
    {"data": {"values": [{"f": 3.86, "e": 1.6}, {"f": 4.5, "e": 1.6}]}, "mark": {"type": "line", "color": "#333333", "strokeWidth": 1},
     "encoding": {"x": {"field": "f", "type": "quantitative"}, "y": {"field": "e", "type": "quantitative"}}},
    {"data": {"values": [{"f": 3.34, "e": 1.6, "t": "−"}, {"f": 4.17, "e": 2.2, "t": "5"}, {"f": 4.17, "e": 1.04, "t": "3"}]}, "mark": {"type": "text", "font": "Liberation Serif", "fontSize": 18, "color": "#333333", "baseline": "middle", "align": "center"},
     "encoding": {"x": {"field": "f", "type": "quantitative"}, "y": {"field": "e", "type": "quantitative"}, "text": {"field": "t"}}}
  ]
},
{
  "width": 418, "height": 322,
  "title": {"text": "(b) Transverse velocity fluctuations", "orient": "bottom", "anchor": "middle", "dx": -5, "font": "Liberation Serif", "fontSize": 31, "fontWeight": "normal", "color": "#222222", "offset": 26},
  "layer": [
    {"data": {"name": "b"}, "mark": {"type": "line", "strokeWidth": 1.4, "clip": true},
     "encoding": {
       "x": {"field": "f", "type": "quantitative", "scale": {"type": "log", "domain": [0.1, 50], "nice": false}, "axis": {"values": [0.1, 1, 10], "labelExpr": "datum.value < 0.5 ? '10⁻¹' : datum.value < 5 ? '10⁰' : '10¹'", "title": "f/fᵥₛ", "labelFontSize": 19, "labelPadding": 16, "titleFontSize": 22, "titlePadding": 14, "domainColor": "#555555"}},
       "y": {"field": "e", "type": "quantitative", "scale": {"domain": [-10, 5], "nice": false}, "axis": {"values": [-10, -5, 0, 5], "labelExpr": "datum.value == 5 ? '10⁵' : datum.value == 0 ? '10⁰' : datum.value == -5 ? '10⁻⁵' : '10⁻¹⁰'", "title": "Eᵥᵥ/U²∞D", "labelFontSize": 20, "labelPadding": 4, "titleFontSize": 22, "titlePadding": 8, "domainColor": "#777777"}},
       "color": {"field": "m", "type": "nominal", "scale": {"domain": ["SMAG", "KSGS", "WALE", "DSMAG", "DKSGS"], "range": ["#ff00ff", "#0000ff", "#00e000", "#00e8f0", "#ff0000"]},
         "legend": {"title": null, "orient": "bottom-left", "offset": 12, "padding": 0, "symbolType": "stroke", "symbolSize": 625, "symbolStrokeWidth": 1.5, "labelFont": "Liberation Serif", "labelFontSize": 19, "labelColor": "#222222", "labelLimit": 400, "labelOffset": 3, "rowPadding": 5, "labelExpr": "'NEQWM, ' + datum.label + ', ℎ = 4ᵗʰ'"}}
     }},
    {"data": {"values": [{"f": 1.5, "e": 0.99}, {"f": 10, "e": -0.38}]}, "mark": {"type": "line", "color": "#808080", "strokeWidth": 1},
     "encoding": {"x": {"field": "f", "type": "quantitative"}, "y": {"field": "e", "type": "quantitative"}}},
    {"data": {"values": [{"f": 3.75, "e": 1.55}, {"f": 4.5, "e": 1.55}]}, "mark": {"type": "line", "color": "#333333", "strokeWidth": 1},
     "encoding": {"x": {"field": "f", "type": "quantitative"}, "y": {"field": "e", "type": "quantitative"}}},
    {"data": {"values": [{"f": 3.1, "e": 1.55, "t": "−"}, {"f": 4.1, "e": 2.08, "t": "5"}, {"f": 4.1, "e": 1.04, "t": "3"}]}, "mark": {"type": "text", "font": "Liberation Serif", "fontSize": 18, "color": "#333333", "baseline": "middle", "align": "center"},
     "encoding": {"x": {"field": "f", "type": "quantitative"}, "y": {"field": "e", "type": "quantitative"}, "text": {"field": "t"}}}
  ]
}
]
}
